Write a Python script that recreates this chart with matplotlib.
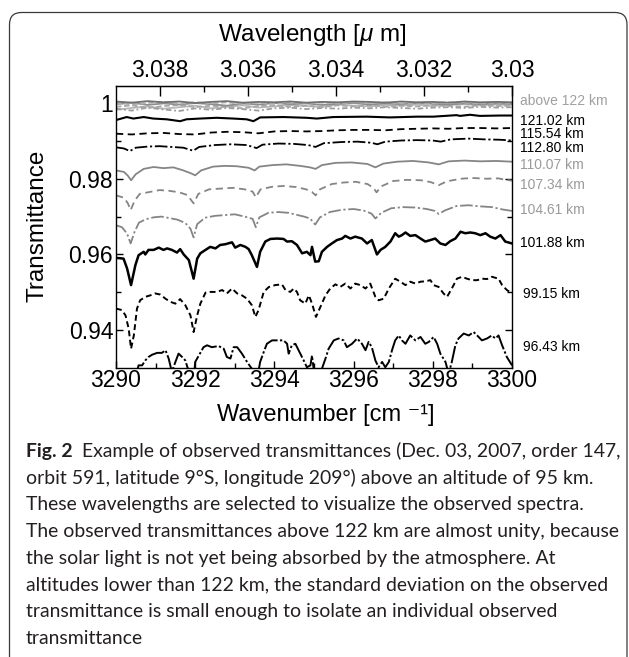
import matplotlib
matplotlib.use('Agg')
import matplotlib.pyplot as plt
from matplotlib.patches import FancyBboxPatch
from matplotlib.transforms import IdentityTransform
from matplotlib.ticker import FixedLocator

plt.rcParams['font.family'] = ['Liberation Sans', 'DejaVu Sans']
plt.rcParams['mathtext.fontset'] = 'custom'
plt.rcParams['mathtext.rm'] = 'Liberation Sans'
plt.rcParams['mathtext.it'] = 'Liberation Sans:italic'
plt.rcParams['mathtext.default'] = 'regular'

# ---------------- data ----------------
nu_above = [3290.0, 3290.4, 3290.8, 3291.2, 3291.6, 3292.0, 3292.4, 3292.8, 3293.2,
            3293.6, 3294.0, 3294.4, 3294.8, 3295.2, 3295.6, 3296.0, 3296.4, 3296.8,
            3297.2, 3297.6, 3298.0, 3298.4, 3298.8, 3299.2, 3299.6, 3300.0]
above_a = [1.0004, 1.0001, 1.0005, 1.0002, 1.0004, 1.0000, 1.0003, 1.0005, 1.0001, 1.0003,
           1.0002, 1.0004, 1.0001, 1.0003, 1.0002, 1.0004, 1.0003, 1.0001, 1.0004, 1.0002,
           1.0003, 1.0001, 1.0004, 1.0002, 1.0003, 1.0002]
above_b = [0.9998, 1.0001, 0.9995, 0.9999, 0.9996, 1.0000, 0.9997, 0.9993, 0.9999, 0.9996,
           1.0000, 0.9997, 0.9999, 0.9995, 0.9998, 1.0000, 0.9996, 0.9999, 0.9997, 1.0000,
           0.9998, 0.9996, 0.9999, 0.9997, 0.9999, 0.9998]
above_c = [0.9990, 0.9994, 0.9987, 0.9992, 0.9995, 0.9989, 0.9993, 0.9990, 0.9986, 0.9992,
           0.9994, 0.9990, 0.9993, 0.9989, 0.9994, 0.9991, 0.9995, 0.9990, 0.9993, 0.9991,
           0.9994, 0.9992, 0.9990, 0.9994, 0.9992, 0.9993]
above_d = [0.9985, 0.9980, 0.9988, 0.9983, 0.9979, 0.9986, 0.9982, 0.9987, 0.9984, 0.9980,
           0.9986, 0.9988, 0.9984, 0.9987, 0.9985, 0.9988, 0.9986, 0.9989, 0.9987, 0.9985,
           0.9988, 0.9989, 0.9987, 0.9990, 0.9988, 0.9989]
above_e = [0.9982, 0.9987, 0.9991, 0.9985, 0.9989, 0.9993, 0.9986, 0.9990, 0.9994, 0.9988,
           0.9991, 0.9995, 0.9992, 0.9990, 0.9996, 0.9993, 0.9991, 0.9995, 0.9993, 0.9996,
           0.9992, 0.9995, 0.9997, 0.9994, 0.9996, 0.9995]
above_f = [1.0001, 0.9996, 1.0000, 1.0003, 0.9998, 1.0002, 0.9999, 1.0002, 0.9997, 1.0001,
           0.9998, 1.0002, 1.0000, 1.0001, 0.9999, 1.0002, 1.0000, 1.0002, 0.9999, 1.0001,
           1.0000, 1.0002, 1.0001, 0.9999, 1.0001, 1.0000]

nu_121 = [3290.00, 3290.27, 3290.44, 3290.70, 3290.94, 3291.28, 3291.62, 3291.78, 3292.12,
          3292.54, 3292.96, 3293.30, 3293.47, 3293.64, 3294.23, 3294.82, 3295.07, 3295.49,
          3296.33, 3296.92, 3297.59, 3298.01, 3298.60, 3298.69, 3298.94, 3299.19, 3299.70, 3300.00]
t_121 = [0.9955, 0.9963, 0.9959, 0.9963, 0.9959, 0.9957, 0.9952, 0.9957, 0.9959,
         0.9961, 0.9959, 0.9957, 0.9952, 0.9962, 0.9963, 0.9961, 0.9959, 0.9963,
         0.9964, 0.9962, 0.9964, 0.9964, 0.9968, 0.9966, 0.9969, 0.9966, 0.9967, 0.9967]

nu_115 = [3290.0, 3290.4, 3290.8, 3291.2, 3291.6, 3292.0, 3292.4, 3292.8, 3293.2, 3293.6,
          3294.0, 3294.4, 3294.8, 3295.2, 3295.6, 3296.0, 3296.4, 3296.8, 3297.2, 3297.6,
          3298.0, 3298.4, 3298.8, 3299.2, 3299.6, 3300.0]
t_115 = [0.9919, 0.9917, 0.9920, 0.9921, 0.9918, 0.9917, 0.9922, 0.9924, 0.9923, 0.9920,
         0.9925, 0.9926, 0.9925, 0.9926, 0.9928, 0.9929, 0.9929, 0.9928, 0.9931, 0.9932,
         0.9933, 0.9932, 0.9934, 0.9934, 0.9933, 0.9934]

nu_112 = [3290.00, 3290.20, 3290.35, 3290.50, 3290.80, 3291.10, 3291.40, 3291.70, 3291.95,
          3292.10, 3292.50, 3292.90, 3293.30, 3293.55, 3293.70, 3294.10, 3294.50, 3294.85,
          3295.04, 3295.25, 3295.70, 3296.10, 3296.45, 3296.60, 3296.80, 3297.20, 3297.60,
          3298.00, 3298.20, 3298.45, 3298.90, 3299.30, 3299.70, 3300.00]
t_112 = [0.9883, 0.9880, 0.9873, 0.9882, 0.9885, 0.9886, 0.9884, 0.9882, 0.9874,
         0.9884, 0.9889, 0.9891, 0.9889, 0.9881, 0.9890, 0.9893, 0.9892, 0.9889,
         0.9884, 0.9894, 0.9897, 0.9898, 0.9895, 0.9891, 0.9898, 0.9901, 0.9902,
         0.9901, 0.9898, 0.9904, 0.9906, 0.9904, 0.9903, 0.9901]

nu_110 = [3290.00, 3290.20, 3290.30, 3290.38, 3290.50, 3290.70, 3290.95, 3291.20, 3291.45,
          3291.70, 3291.90, 3292.00, 3292.15, 3292.45, 3292.75, 3293.05, 3293.35, 3293.50,
          3293.62, 3293.95, 3294.30, 3294.65, 3294.90, 3295.04, 3295.20, 3295.55, 3295.95,
          3296.35, 3296.55, 3296.75, 3297.10, 3297.50, 3297.90, 3298.15, 3298.40, 3298.80,
          3299.20, 3299.60, 3300.00]
t_110 = [0.9822, 0.9818, 0.9808, 0.9796, 0.9812, 0.9826, 0.9831, 0.9828, 0.9830,
         0.9822, 0.9814, 0.9809, 0.9822, 0.9832, 0.9834, 0.9833, 0.9829, 0.9822,
         0.9832, 0.9836, 0.9838, 0.9834, 0.9830, 0.9826, 0.9836, 0.9842, 0.9843,
         0.9839, 0.9830, 0.9840, 0.9845, 0.9847, 0.9843, 0.9838, 0.9846, 0.9848,
         0.9846, 0.9847, 0.9845]

nu_107 = [3290.00, 3290.20, 3290.30, 3290.37, 3290.47, 3290.60, 3290.85, 3291.10, 3291.35,
          3291.60, 3291.80, 3291.96, 3292.08, 3292.35, 3292.65, 3292.95, 3293.25, 3293.45,
          3293.53, 3293.65, 3293.95, 3294.25, 3294.55, 3294.80, 3294.95, 3295.04, 3295.15,
          3295.45, 3295.75, 3296.05, 3296.35, 3296.50, 3296.58, 3296.70, 3297.00, 3297.35,
          3297.70, 3297.95, 3298.15, 3298.35, 3298.70, 3299.00, 3299.35, 3299.65, 3299.85,
          3300.00]
t_107 = [0.9756, 0.9750, 0.9735, 0.9717, 0.9742, 0.9760, 0.9765, 0.9770, 0.9768,
         0.9764, 0.9757, 0.9735, 0.9760, 0.9772, 0.9774, 0.9776, 0.9772, 0.9766,
         0.9751, 0.9772, 0.9779, 0.9781, 0.9778, 0.9772, 0.9765, 0.9756, 0.9772,
         0.9786, 0.9790, 0.9792, 0.9786, 0.9776, 0.9764, 0.9780, 0.9794, 0.9797,
         0.9796, 0.9791, 0.9783, 0.9793, 0.9800, 0.9802, 0.9800, 0.9801, 0.9797,
         0.9795]

nu_104 = [3290.00, 3290.15, 3290.28, 3290.37, 3290.47, 3290.58, 3290.75, 3290.95, 3291.15,
          3291.35, 3291.55, 3291.75, 3291.88, 3291.96, 3292.05, 3292.25, 3292.50, 3292.75,
          3293.00, 3293.25, 3293.45, 3293.53, 3293.62, 3293.85, 3294.10, 3294.35, 3294.55,
          3294.75, 3294.90, 3295.03, 3295.15, 3295.40, 3295.70, 3296.00, 3296.25, 3296.45,
          3296.55, 3296.70, 3296.95, 3297.25, 3297.55, 3297.85, 3298.05, 3298.15, 3298.30,
          3298.60, 3298.90, 3299.20, 3299.50, 3299.75, 3300.00]
t_104 = [0.9677, 0.9672, 0.9655, 0.9629, 0.9660, 0.9684, 0.9693, 0.9698, 0.9700,
         0.9696, 0.9692, 0.9683, 0.9668, 0.9645, 0.9680, 0.9697, 0.9702, 0.9704,
         0.9706, 0.9700, 0.9694, 0.9672, 0.9698, 0.9710, 0.9712, 0.9710, 0.9705,
         0.9700, 0.9695, 0.9679, 0.9698, 0.9712, 0.9718, 0.9720, 0.9716, 0.9708,
         0.9695, 0.9710, 0.9722, 0.9725, 0.9724, 0.9720, 0.9715, 0.9707, 0.9716,
         0.9728, 0.9730, 0.9727, 0.9725, 0.9719, 0.9715]

nu_101 = [3290.00, 3290.19, 3290.28, 3290.38, 3290.49, 3290.57, 3290.70, 3290.74, 3290.82,
          3290.95, 3291.08, 3291.20, 3291.29, 3291.41, 3291.54, 3291.62, 3291.71, 3291.84,
          3291.96, 3292.05, 3292.13, 3292.26, 3292.38, 3292.51, 3292.63, 3292.76, 3292.93,
          3293.01, 3293.14, 3293.27, 3293.35, 3293.43, 3293.56, 3293.64, 3293.77, 3293.90,
          3294.07, 3294.23, 3294.32, 3294.44, 3294.57, 3294.70, 3294.82, 3294.91, 3294.95,
          3295.03, 3295.12, 3295.20, 3295.33, 3295.45, 3295.58, 3295.71, 3295.79, 3295.92,
          3296.04, 3296.21, 3296.34, 3296.46, 3296.59, 3296.68, 3296.80, 3296.93, 3297.05,
          3297.14, 3297.22, 3297.31, 3297.43, 3297.56, 3297.69, 3297.81, 3297.94, 3298.06,
          3298.19, 3298.32, 3298.44, 3298.57, 3298.70, 3298.82, 3298.95, 3299.07, 3299.20,
          3299.33, 3299.45, 3299.58, 3299.71, 3299.83, 3300.00]
t_101 = [0.9591, 0.9589, 0.9563, 0.9519, 0.9572, 0.9598, 0.9607, 0.9600, 0.9612,
         0.9612, 0.9618, 0.9612, 0.9616, 0.9612, 0.9605, 0.9614, 0.9600, 0.9585,
         0.9536, 0.9589, 0.9603, 0.9612, 0.9620, 0.9616, 0.9625, 0.9627, 0.9632,
         0.9618, 0.9625, 0.9620, 0.9614, 0.9598, 0.9567, 0.9607, 0.9634, 0.9641,
         0.9642, 0.9641, 0.9634, 0.9635, 0.9625, 0.9603, 0.9607, 0.9598, 0.9620,
         0.9581, 0.9582, 0.9607, 0.9620, 0.9629, 0.9638, 0.9642, 0.9649, 0.9642,
         0.9647, 0.9642, 0.9629, 0.9638, 0.9600, 0.9612, 0.9620, 0.9634, 0.9656,
         0.9647, 0.9651, 0.9658, 0.9649, 0.9651, 0.9642, 0.9634, 0.9638, 0.9642,
         0.9629, 0.9625, 0.9635, 0.9642, 0.9660, 0.9656, 0.9658, 0.9656, 0.9651,
         0.9656, 0.9647, 0.9642, 0.9651, 0.9634, 0.9629]

nu_99 = [3290.00, 3290.15, 3290.24, 3290.32, 3290.38, 3290.45, 3290.53, 3290.61, 3290.74,
         3290.87, 3290.99, 3291.12, 3291.25, 3291.37, 3291.50, 3291.62, 3291.75, 3291.88,
         3291.96, 3292.05, 3292.13, 3292.26, 3292.38, 3292.55, 3292.68, 3292.80, 3292.93,
         3293.06, 3293.18, 3293.31, 3293.43, 3293.52, 3293.60, 3293.73, 3293.86, 3294.02,
         3294.19, 3294.28, 3294.40, 3294.49, 3294.57, 3294.65, 3294.78, 3294.87, 3294.95,
         3295.05, 3295.16, 3295.29, 3295.41, 3295.54, 3295.66, 3295.79, 3295.92, 3296.04,
         3296.17, 3296.30, 3296.42, 3296.55, 3296.63, 3296.76, 3296.89, 3297.05, 3297.18,
         3297.31, 3297.43, 3297.56, 3297.69, 3297.81, 3297.94, 3298.02, 3298.15, 3298.27,
         3298.36, 3298.48, 3298.61, 3298.74, 3298.86, 3298.99, 3299.12, 3299.24, 3299.37,
         3299.49, 3299.66, 3299.75, 3299.87, 3300.00]
t_99 = [0.9457, 0.9453, 0.9439, 0.9404, 0.9351, 0.9386, 0.9457, 0.9479, 0.9488,
        0.9492, 0.9497, 0.9494, 0.9483, 0.9475, 0.9470, 0.9482, 0.9466, 0.9439,
        0.9395, 0.9439, 0.9470, 0.9499, 0.9501, 0.9501, 0.9506, 0.9497, 0.9510,
        0.9497, 0.9492, 0.9483, 0.9466, 0.9435, 0.9453, 0.9501, 0.9514, 0.9519,
        0.9521, 0.9506, 0.9501, 0.9510, 0.9501, 0.9479, 0.9470, 0.9492, 0.9470,
        0.9435, 0.9461, 0.9492, 0.9510, 0.9521, 0.9514, 0.9523, 0.9510, 0.9523,
        0.9519, 0.9510, 0.9523, 0.9488, 0.9479, 0.9483, 0.9510, 0.9536, 0.9528,
        0.9519, 0.9528, 0.9523, 0.9528, 0.9529, 0.9532, 0.9519, 0.9514, 0.9497,
        0.9488, 0.9510, 0.9536, 0.9541, 0.9536, 0.9532, 0.9532, 0.9536, 0.9535,
        0.9541, 0.9536, 0.9519, 0.9506, 0.9497]

nu_96 = [3290.00, 3290.30, 3290.53, 3290.57, 3290.66, 3290.74, 3290.82, 3290.91, 3291.04,
         3291.16, 3291.25, 3291.33, 3291.41, 3291.50, 3291.58, 3291.67, 3291.75, 3291.84,
         3291.96, 3292.00, 3292.21, 3292.30, 3292.42, 3292.59, 3292.72, 3292.80, 3292.89,
         3292.97, 3293.06, 3293.18, 3293.31, 3293.43, 3293.56, 3293.64, 3293.73, 3293.81,
         3293.94, 3294.11, 3294.23, 3294.32, 3294.36, 3294.44, 3294.53, 3294.61, 3294.74,
         3294.82, 3294.91, 3294.95, 3294.99, 3295.08, 3295.20, 3295.29, 3295.37, 3295.50,
         3295.62, 3295.75, 3295.83, 3295.96, 3296.09, 3296.21, 3296.30, 3296.38, 3296.46,
         3296.55, 3296.63, 3296.72, 3296.80, 3296.89, 3296.97, 3297.05, 3297.14, 3297.22,
         3297.31, 3297.43, 3297.56, 3297.69, 3297.81, 3297.90, 3298.02, 3298.11, 3298.19,
         3298.32, 3298.40, 3298.48, 3298.57, 3298.65, 3298.78, 3298.91, 3299.03, 3299.12,
         3299.24, 3299.37, 3299.49, 3299.58, 3299.66, 3299.75, 3299.87, 3300.00]
t_96 = [0.9265, 0.9255, 0.9290, 0.9307, 0.9307, 0.9320, 0.9329, 0.9335, 0.9340,
        0.9340, 0.9347, 0.9325, 0.9290, 0.9316, 0.9338, 0.9329, 0.9320, 0.9290,
        0.9270, 0.9316, 0.9355, 0.9360, 0.9355, 0.9358, 0.9351, 0.9329, 0.9325,
        0.9355, 0.9355, 0.9338, 0.9316, 0.9298, 0.9270, 0.9316, 0.9342, 0.9364,
        0.9373, 0.9373, 0.9373, 0.9364, 0.9338, 0.9360, 0.9364, 0.9347, 0.9320,
        0.9302, 0.9307, 0.9333, 0.9298, 0.9270, 0.9298, 0.9325, 0.9351, 0.9373,
        0.9378, 0.9373, 0.9355, 0.9364, 0.9378, 0.9364, 0.9347, 0.9369, 0.9355,
        0.9320, 0.9302, 0.9316, 0.9302, 0.9316, 0.9347, 0.9373, 0.9386, 0.9373,
        0.9364, 0.9386, 0.9373, 0.9382, 0.9364, 0.9369, 0.9382, 0.9364, 0.9338,
        0.9316, 0.9285, 0.9316, 0.9360, 0.9378, 0.9391, 0.9386, 0.9395, 0.9386,
        0.9373, 0.9378, 0.9386, 0.9378, 0.9386, 0.9360, 0.9329, 0.9307]

altitude_labels = ['above 122 km', '121.02 km', '115.54 km', '112.80 km', '110.07 km',
                   '107.34 km', '104.61 km', '101.88 km', '99.15 km', '96.43 km']

bottom_ticks = [3290, 3292, 3294, 3296, 3298, 3300]
left_ticks = [0.94, 0.96, 0.98, 1.0]
left_ticklabels = ['0.94', '0.96', '0.98', '1']
top_ticks = [3.038, 3.036, 3.034, 3.032, 3.030]
top_ticklabels = ['3.038', '3.036', '3.034', '3.032', '3.03']
top_minor = [3.037, 3.035, 3.033, 3.031]

caption_lines = [
    "orbit 591, latitude 9\u00b0S, longitude 209\u00b0) above an altitude of 95 km.",
    "These wavelengths are selected to visualize the observed spectra.",
    "The observed transmittances above 122 km are almost unity, because",
    "the solar light is not yet being absorbed by the atmosphere. At",
    "altitudes lower than 122 km, the standard deviation on the observed",
    "transmittance is small enough to isolate an individual observed",
    "transmittance",
]
caption_first_bold = "Fig. 2"
caption_first_rest = "Example of observed transmittances (Dec. 03, 2007, order 147,"

# ---------------- figure ----------------
W, H = 629, 657
fig = plt.figure(figsize=(W / 100, H / 100), dpi=100)
fig.patch.set_facecolor('white')

# rounded border box
box = FancyBboxPatch((9.5, -20), 617.5, H - 12.5 + 20,
                     boxstyle="round,pad=0,rounding_size=12",
                     transform=IdentityTransform(), fill=False,
                     ec='#3a3a3a', lw=0.9)
fig.add_artist(box)

ax = fig.add_axes([116 / W, 1 - 368 / H, (512 - 116) / W, (368 - 86) / H])
ax.set_xlim(3290, 3300)
ax.set_ylim(0.93, 1.0045)

GRAY = '#858585'
lw_thin = 1.3

# above 122 km bundle
ax.plot(nu_above, above_e, color='#b8b8b8', lw=1.3)
ax.plot(nu_above, above_d, color='#9c9c9c', lw=1.3, ls=(0, (3, 1.5, 1, 1.5)))
ax.plot(nu_above, above_c, color='#a8a8a8', lw=1.3, ls=(0, (3, 1.5)))
ax.plot(nu_above, above_b, color='#8e8e8e', lw=1.3)
ax.plot(nu_above, above_f, color='#b0b0b0', lw=1.3, ls=(0, (3, 1.5)))
ax.plot(nu_above, above_a, color='#707070', lw=1.3)

ax.plot(nu_121, t_121, color='black', lw=1.5)
ax.plot(nu_115, t_115, color='black', lw=1.3, ls=(0, (4, 2.5)))
ax.plot(nu_112, t_112, color='black', lw=1.3, ls=(0, (7, 1.5, 1.2, 1.5)))
ax.plot(nu_110, t_110, color=GRAY, lw=lw_thin)
ax.plot(nu_107, t_107, color=GRAY, lw=lw_thin, ls=(0, (4, 2.5)))
ax.plot(nu_104, t_104, color=GRAY, lw=lw_thin, ls=(0, (7, 1.5, 1.2, 1.5)))
ax.plot(nu_101, t_101, color='black', lw=1.8)
ax.plot(nu_99, t_99, color='black', lw=1.4, ls=(0, (3, 1.8)))
ax.plot(nu_96, t_96, color='black', lw=1.4, ls=(0, (9, 1.2, 1.2, 1.2)))

# right-hand altitude labels
label_y = [1.0005, 0.99523, 0.99179, 0.98808, 0.98358, 0.97828, 0.97166, 0.96291, 0.94967, 0.93563]
label_x = [1.021, 1.021, 1.021, 1.021, 1.021, 1.021, 1.021, 1.019, 1.028, 1.028]
label_c = ['#a0a0a0', 'black', 'black', 'black', '#9a9a9a', '#9a9a9a', '#9a9a9a',
           'black', 'black', 'black']
for txt, yv, xv, c in zip(altitude_labels, label_y, label_x, label_c):
    ax.text(xv, yv, txt, transform=ax.get_yaxis_transform(), fontsize=10,
            color=c, va='center', ha='left', clip_on=False)

# axes ticks
ax.set_xticks(bottom_ticks)
ax.set_xticklabels([str(t) for t in bottom_ticks])
ax.xaxis.set_minor_locator(FixedLocator([3291, 3293, 3295, 3297, 3299]))
ax.set_yticks(left_ticks)
ax.set_yticklabels(left_ticklabels)
ax.yaxis.set_minor_locator(FixedLocator([0.95, 0.97, 0.99]))
ax.tick_params(axis='both', which='both', direction='in', labelsize=16.5,
               top=False, right=True, width=1.0)
ax.tick_params(axis='both', which='major', length=5)
ax.tick_params(axis='both', which='minor', length=3.5)
ax.tick_params(axis='x', pad=1)
ax.tick_params(axis='y', pad=2)
for s in ax.spines.values():
    s.set_linewidth(1.0)

NU_A, LAM_A = 3291.11, 3.038
NU_B, LAM_B = 3300.0, 3.030
slope = (LAM_B - LAM_A) / (NU_B - NU_A)


def nu2lam(n):
    return LAM_A + (n - NU_A) * slope


def lam2nu(l):
    return NU_A + (l - LAM_A) / slope


sec = ax.secondary_xaxis('top', functions=(nu2lam, lam2nu))
sec.set_xticks(top_ticks)
sec.set_xticklabels(top_ticklabels)
sec.xaxis.set_minor_locator(FixedLocator(top_minor))
sec.tick_params(axis='x', which='both', direction='in', labelsize=16.5, pad=3, width=1.0)
sec.tick_params(axis='x', which='major', length=7)
sec.tick_params(axis='x', which='minor', length=4)

fig.text(312 / W, 1 - 35 / H, r'Wavelength [$\mathit{\mu}$ m]', fontsize=17.5,
         ha='center', va='center')
fig.text(326 / W, 1 - 415 / H, 'Wavenumber [cm \u207b\u00b9]', fontsize=17, ha='center',
         va='center', family=['Liberation Sans', 'DejaVu Sans'])
fig.text(38 / W, 1 - 226 / H, 'Transmittance', fontsize=17.5, ha='center', va='center',
         rotation=90)

# caption
cap_font = ['Lato', 'Open Sans', 'DejaVu Sans']
cap_color = '#231f20'
fig.canvas.draw()
renderer = fig.canvas.get_renderer()
probe = fig.text(0, 0, caption_lines[2], fontsize=14, family=cap_font)
wprobe = probe.get_window_extent(renderer).width
probe.remove()
cap_size = 14 * 596.0 / wprobe

x0 = 26
base0 = 457
step = 26.7
tb = fig.text(x0 / W, 1 - base0 / H, caption_first_bold, fontsize=cap_size, family=cap_font,
              weight='bold', color=cap_color, va='baseline', ha='left')
wb = tb.get_window_extent(renderer).width
fig.text((x0 + wb + 9) / W, 1 - base0 / H, caption_first_rest, fontsize=cap_size,
         family=cap_font, color=cap_color, va='baseline', ha='left')
for i, line in enumerate(caption_lines):
    fig.text(x0 / W, 1 - (base0 + step * (i + 1)) / H, line, fontsize=cap_size,
             family=cap_font, color=cap_color, va='baseline', ha='left')

fig.savefig('out.png', dpi=100, facecolor='white')
